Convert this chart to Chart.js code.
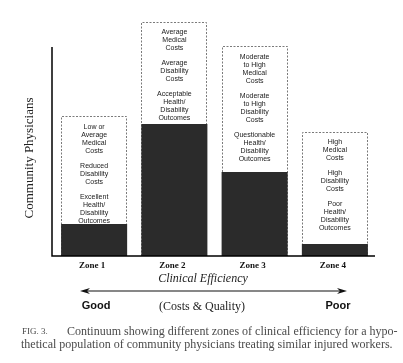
<!DOCTYPE html>
<html>
<head>
<meta charset="utf-8">
<script src="https://cdn.jsdelivr.net/npm/chart.js@4.4.1/dist/chart.umd.min.js"></script>
<style>
  html, body { margin: 0; padding: 0; background: #fff; }
  #wrap { width: 403px; height: 363px; }
</style>
</head>
<body>
<div id="wrap"><canvas id="myChart" width="403" height="363"></canvas></div>
<script>
const zones = ['Zone 1', 'Zone 2', 'Zone 3', 'Zone 4'];
// dark part of each column
const physicians = [13.7, 56.4, 35.9, 5.1];
// dashed outline box above each column
const envelope = [59.8, 100, 89.7, 53.0];
const yAxisTop = 89.3;

const notes = [
    [['Low or', 'Average', 'Medical', 'Costs'], ['Reduced', 'Disability', 'Costs'], ['Excellent', 'Health/', 'Disability', 'Outcomes']],
    [['Average', 'Medical', 'Costs'], ['Average', 'Disability', 'Costs'], ['Acceptable', 'Health/', 'Disability', 'Outcomes']],
    [['Moderate', 'to High', 'Medical', 'Costs'], ['Moderate', 'to High', 'Disability', 'Costs'], ['Questionable', 'Health/', 'Disability', 'Outcomes']],
    [['High', 'Medical', 'Costs'], ['High', 'Disability', 'Costs'], ['Poor', 'Health/', 'Disability', 'Outcomes']]
];

const yTitle = 'Community Physicians';
const xTitle = 'Clinical Efficiency';
const leftEnd = 'Good';
const rightEnd = 'Poor';
const midNote = '(Costs & Quality)';
const figLabel = 'FIG. 3.';
const caption = [
    'Continuum showing different zones of clinical efficiency for a hypo-',
    'thetical population of community physicians treating similar injured workers.'
];

const serif = '"Liberation Serif", "Times New Roman", serif';
const sans = '"Liberation Sans", Arial, sans-serif';

const dashedBoxes = {
    id: 'dashedBoxes',
    afterDatasetDraw(chart, args) {
        if (args.index !== 0) return;
        const ctx = chart.ctx;
        ctx.save();
        ctx.strokeStyle = '#7a7a7a';
        ctx.lineWidth = 1;
        ctx.setLineDash([2, 1.5]);
        args.meta.data.forEach(bar => {
            const p = bar.getProps(['x', 'y', 'base', 'width'], true);
            const l = Math.round(p.x - p.width / 2) + 0.5;
            const r = Math.round(p.x + p.width / 2) - 0.5;
            const t = Math.round(p.y) + 0.5;
            ctx.beginPath();
            ctx.moveTo(l, p.base);
            ctx.lineTo(l, t);
            ctx.lineTo(r, t);
            ctx.lineTo(r, p.base);
            ctx.stroke();
        });
        ctx.restore();
    }
};

const decorations = {
    id: 'decorations',
    afterDatasetsDraw(chart) {
        const ctx = chart.ctx;
        const xs = chart.scales.x;
        const ys = chart.scales.y;
        const y0 = ys.getPixelForValue(0);
        ctx.save();

        // notes inside the boxes
        ctx.fillStyle = '#1a1a1a';
        ctx.font = '7px ' + sans;
        ctx.textAlign = 'center';
        ctx.textBaseline = 'middle';
        const boxes = chart.getDatasetMeta(0).data;
        notes.forEach((groups, i) => {
            const cx = boxes[i].x;
            let y = boxes[i].y + 10.5;
            groups.forEach(lines => {
                lines.forEach(line => {
                    ctx.fillText(line, cx, y);
                    y += 8;
                });
                y += 7;
            });
        });

        // axes
        ctx.strokeStyle = '#000';
        ctx.lineWidth = 1.5;
        ctx.beginPath();
        ctx.moveTo(52, ys.getPixelForValue(yAxisTop));
        ctx.lineTo(52, y0);
        ctx.lineTo(375, y0);
        ctx.stroke();

        // zone labels
        ctx.fillStyle = '#111';
        ctx.font = 'bold 9px ' + serif;
        zones.forEach((z, i) => {
            ctx.fillText(z, xs.getPixelForValue(i) - 2, y0 + 9.5);
        });

        // y title
        ctx.save();
        ctx.translate(30, 158);
        ctx.rotate(-Math.PI / 2);
        ctx.font = '13px ' + serif;
        ctx.fillStyle = '#222';
        ctx.fillText(yTitle, 0, 0);
        ctx.restore();

        // x title
        ctx.font = 'italic 12px ' + serif;
        ctx.fillStyle = '#222';
        ctx.fillText(xTitle, 203, 279);

        // double arrow
        const ay = 291, ax1 = 80, ax2 = 347;
        ctx.strokeStyle = '#111';
        ctx.lineWidth = 1.2;
        ctx.beginPath();
        ctx.moveTo(ax1 + 4, ay);
        ctx.lineTo(ax2 - 4, ay);
        ctx.stroke();
        ctx.fillStyle = '#111';
        ctx.beginPath();
        ctx.moveTo(ax1, ay);
        ctx.lineTo(ax1 + 10, ay - 3);
        ctx.lineTo(ax1 + 7, ay);
        ctx.lineTo(ax1 + 10, ay + 3);
        ctx.closePath();
        ctx.fill();
        ctx.beginPath();
        ctx.moveTo(ax2, ay);
        ctx.lineTo(ax2 - 10, ay - 3);
        ctx.lineTo(ax2 - 7, ay);
        ctx.lineTo(ax2 - 10, ay + 3);
        ctx.closePath();
        ctx.fill();

        ctx.font = 'bold 11px ' + sans;
        ctx.fillText(leftEnd, 96, 306);
        ctx.fillText(rightEnd, 338, 306);
        ctx.font = '12px ' + serif;
        ctx.fillStyle = '#222';
        ctx.fillText(midNote, 202, 307);

        // caption
        ctx.textAlign = 'left';
        ctx.fillStyle = '#4a4a4a';
        ctx.font = '9px ' + serif;
        ctx.fillText(figLabel, 22, 332);
        ctx.font = '12px ' + serif;
        ctx.fillText(caption[0], 67, 332);
        ctx.fillText(caption[1], 21, 345);

        ctx.restore();
    }
};

const ctx = document.getElementById('myChart').getContext('2d');
const myChart = new Chart(ctx, {
    type: 'bar',
    data: {
        labels: zones,
        datasets: [{
            label: 'Range',
            data: envelope,
            backgroundColor: '#fff',
            borderWidth: 0,
            grouped: false,
            order: 2
        }, {
            label: 'Community Physicians',
            data: physicians,
            backgroundColor: '#2b2b2b',
            borderWidth: 0,
            grouped: false,
            order: 1
        }]
    },
    options: {
        responsive: false,
        animation: false,
        devicePixelRatio: 1,
        layout: { padding: { left: 54, right: 28, top: 22, bottom: 107 } },
        datasets: { bar: { barPercentage: 0.823, categoryPercentage: 1 } },
        plugins: { legend: { display: false }, tooltip: { enabled: false } },
        scales: {
            x: { display: false },
            y: { display: false, min: 0, max: 100 }
        }
    },
    plugins: [dashedBoxes, decorations]
});
</script>
</body>
</html>
